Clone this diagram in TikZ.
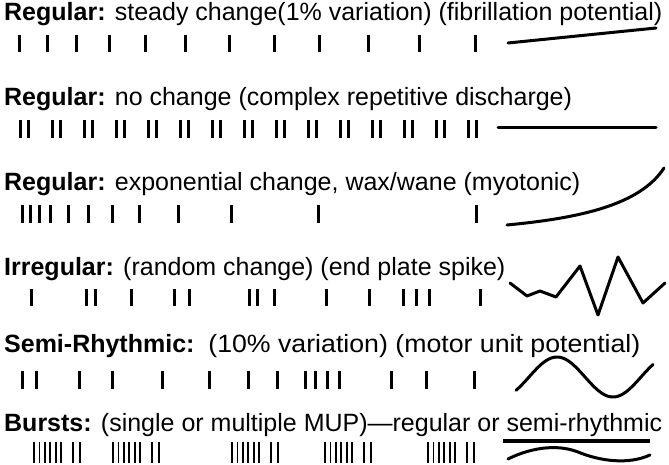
\documentclass[tikz,border=0pt]{standalone}
\usepackage{fontspec}
\setmainfont{Liberation Sans}
\begin{document}
\begin{tikzpicture}[x=1pt,y=-1pt,
  lbl/.style={anchor=base west, inner sep=0pt, font=\fontsize{25}{30}\selectfont},
  tk/.style={line width=3pt},
  tkb/.style={line width=1.8pt},
  wave/.style={line width=3pt, line cap=round, line join=round}]
\useasboundingbox (0,0) rectangle (669,465);
% Row 1
\node[lbl] (t1) at (4,21) {\textbf{Regular:} steady change(1\% variation) (fibrillation potential)};
\foreach \x in {19,47,76,109,145,185,229,274,319,368,419,475} \draw[tk] (\x,35) -- (\x,52);
\coordinate (a1) at (508,43); \coordinate (b1) at (656,28);
\draw[wave] (a1) -- (b1);
% Row 2
\node[lbl] (t2) at (4,106) {\textbf{Regular:} no change (complex repetitive discharge)};
\foreach \x in {20,52,84,116,148,180,212,244,276,308,340,372,404,436,468} {
  \draw[tk] (\x,120) -- (\x,138); \draw[tk] (\x+8,120) -- (\x+8,138);}
\coordinate (a2) at (498,128); \coordinate (b2) at (656,128);
\draw[wave] (a2) -- (b2);
% Row 3
\node[lbl] (t3) at (4,190) {\textbf{Regular:} exponential change, wax/wane (myotonic)};
\foreach \x in {22,30,39,50,68,88,112,139,178,231,318,476} \draw[tk] (\x,205) -- (\x,223);
\coordinate (a3) at (507,225); \coordinate (b3) at (664,168);
\draw[wave] (a3) .. controls (580,218) and (640,205) .. (b3);
% Row 4
\node[lbl] (t4) at (4,275) {\textbf{Irregular:} (random change) (end plate spike)};
\foreach \x in {31,86,95,131,174,189,249,257,274,326,369,403,416,429,480} \draw[tk] (\x,289) -- (\x,306);
\draw[wave] (510,283) -- (527,296) -- (540,291) -- (556,297) -- (580,266) -- (598,315) -- (618,257) -- (643,303) -- (665,283);
% Row 5
\node[lbl] (t5) at (4,352) {\textbf{Semi-Rhythmic:}\ \ \resizebox{432pt}{\height}{(10\% variation) (motor unit potential)}};
\foreach \x in {22,36,79,112,162,209,248,277,305,315,327,339,391,426,474} \draw[tk] (\x,371) -- (\x,389);
\draw[wave, domain=516:653, samples=60, variable=\t] plot (\t, {377 - 20*cos(deg((\t-557)*pi/56))});
% Row 6
\node[lbl] (t6) at (4,431) {\textbf{Bursts:} (single or multiple MUP)---regular or semi-rhythmic};
\foreach \g in {34,113,232,325,428} {
  \foreach \i in {0,...,5} \draw[tkb] (\g+\i*5.4,442) -- (\g+\i*5.4,463);
  \draw[tkb] (\g+39,442) -- (\g+39,463); \draw[tkb] (\g+46,442) -- (\g+46,463);}
\draw[line width=3.5pt] (503,441) -- (650,441);
\draw[wave] (508,459) .. controls (528,449) and (555,443) .. (578,452) .. controls (600,461) and (628,465) .. (650,455);
\end{tikzpicture}
\end{document}
